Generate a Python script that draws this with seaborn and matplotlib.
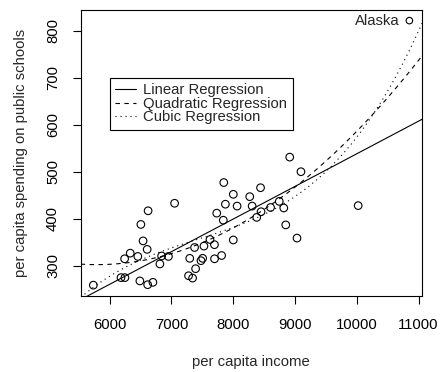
import numpy as np
import pandas as pd
import matplotlib
matplotlib.use("Agg")
import matplotlib.pyplot as plt
import seaborn as sns

# Per capita spending on public schools vs per capita income, US states, 1979
states = [
    "Alabama", "Alaska", "Arizona", "Arkansas", "California", "Colorado",
    "Connecticut", "Delaware", "Florida", "Georgia", "Hawaii", "Idaho",
    "Illinois", "Indiana", "Iowa", "Kansas", "Kentucky", "Louisiana", "Maine",
    "Maryland", "Massachusetts", "Michigan", "Minnesota", "Mississippi",
    "Missouri", "Montana", "Nebraska", "Nevada", "New Hampshire", "New Jersey",
    "New Mexico", "New York", "North Carolina", "North Dakota", "Ohio",
    "Oklahoma", "Oregon", "Pennsylvania", "Rhode Island", "South Carolina",
    "South Dakota", "Tennessee", "Texas", "Utah", "Vermont", "Virginia",
    "Washington", "Washington DC", "West Virginia", "Wisconsin",
]
income = [
    6247, 10851, 7374, 6183, 8850, 8001, 8914, 8604, 7505, 6700, 8380, 6813,
    8745, 7696, 7873, 8001, 6615, 7296, 6333, 8306, 8063, 8442, 7847, 5736,
    7342, 7051, 7391, 9032, 7277, 8818, 6505, 8267, 6607, 7478, 7812, 6951,
    7839, 7733, 7526, 6242, 6841, 6489, 7697, 6622, 6541, 7624, 8450, 10022,
    6456, 9096,
]
spending = [
    275, 821, 339, 275, 387, 452, 531, 424, 316, 265, 403, 304, 437, 345, 431,
    355, 260, 316, 327, 427, 427, 466, 477, 259, 274, 433, 294, 359, 279, 423,
    388, 447, 335, 311, 322, 320, 397, 412, 342, 315, 321, 268, 315, 417, 353,
    356, 415, 428, 320, 500,
]
fit_labels = ["Linear Regression", "Quadratic Regression", "Cubic Regression"]
fit_orders = [1, 2, 3]

df = pd.DataFrame({"state": states, "income": income, "spending": spending})

sns.set_theme(style="ticks")
plt.rcParams["font.family"] = ["Liberation Sans", "DejaVu Sans"]
plt.rcParams.update({
    "font.size": 10.7,
    "axes.edgecolor": "black",
    "axes.linewidth": 0.8,
    "xtick.color": "black",
    "ytick.color": "black",
    "xtick.major.width": 0.8,
    "ytick.major.width": 0.8,
    "xtick.major.size": 5.5,
    "ytick.major.size": 5.5,
    "xtick.labelsize": 10.7,
    "ytick.labelsize": 10.7,
})

fig, ax = plt.subplots(figsize=(4.41, 3.72), dpi=100)
fig.subplots_adjust(left=0.183, right=0.957, top=0.973, bottom=0.205)

# axis ranges padded 4% beyond the data, as in base R graphics
xr = df["income"].max() - df["income"].min()
yr = df["spending"].max() - df["spending"].min()
xlim = (df["income"].min() - 0.04 * xr, df["income"].max() + 0.04 * xr)
ylim = (df["spending"].min() - 0.04 * yr, df["spending"].max() + 0.04 * yr)
ax.set_xlim(xlim)
ax.set_ylim(ylim)

others = df[df["state"] != "Alaska"]
alaska = df[df["state"] == "Alaska"]

sns.scatterplot(data=others, x="income", y="spending", marker="o", s=30,
                facecolor="none", edgecolor="black", linewidth=0.8, ax=ax,
                legend=False)
sns.scatterplot(data=alaska, x="income", y="spending", marker="o", s=22,
                facecolor="none", edgecolor="black", linewidth=0.8, ax=ax,
                legend=False)
ax.annotate("Alaska", (alaska["income"].iloc[0], alaska["spending"].iloc[0]),
            xytext=(-7, 0), textcoords="offset points", ha="right",
            va="center", fontsize=10.7)

styles = ["-", (0, (4, 4)), (0, (1, 3.5))]
for order, label, ls in zip(fit_orders, fit_labels, styles):
    sns.regplot(data=df, x="income", y="spending", order=order, ci=None,
                scatter=False, truncate=False, label=label, ax=ax,
                line_kws={"color": "black", "linewidth": 0.8, "linestyle": ls})

ax.set_xlim(xlim)
ax.set_ylim(ylim)
ax.set_xticks([6000, 7000, 8000, 9000, 10000, 11000])
ax.set_yticks([300, 400, 500, 600, 700, 800])
ax.tick_params(axis="x", pad=10.8)
ax.tick_params(axis="y", pad=9.4)
for lab in ax.get_yticklabels():
    lab.set_rotation(90)
    lab.set_va("center")

for side in ["top", "right", "left", "bottom"]:
    ax.spines[side].set_visible(True)

ax.set_xlabel("per capita income", fontsize=10.7)
ax.set_ylabel("per capita spending on public schools", fontsize=10.7)
ax.xaxis.set_label_coords(0.5, -0.207)
ax.yaxis.set_label_coords(-0.155, 0.5)

leg = ax.legend(loc="upper left", bbox_to_anchor=(0.085, 0.763),
                frameon=True, fancybox=False, edgecolor="black",
                framealpha=1, borderaxespad=0, handlelength=1.4,
                handletextpad=0.5, labelspacing=-0.03, borderpad=0.37,
                fontsize=10.7)
leg.get_frame().set_linewidth(0.8)

fig.savefig("out.png", dpi=100)
